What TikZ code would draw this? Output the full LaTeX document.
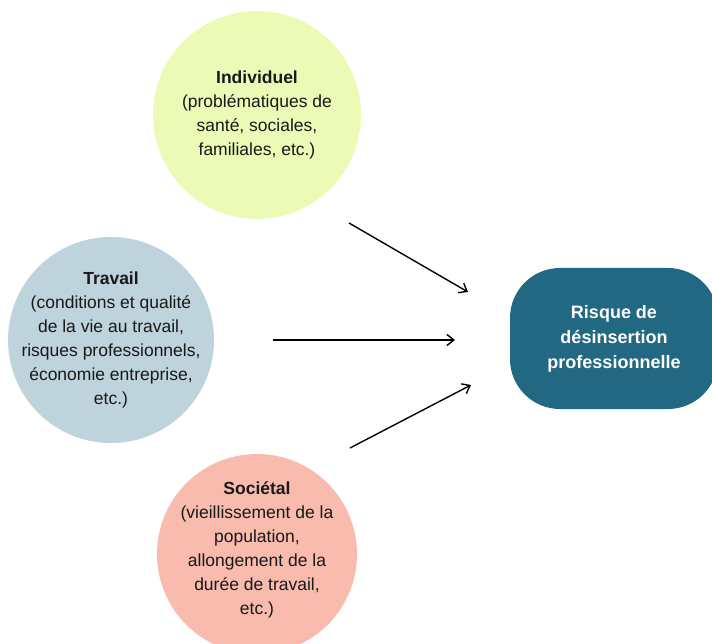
\documentclass[tikz,border=0pt]{standalone}
\usepackage{fontspec}
\setmainfont{Liberation Sans}
\usetikzlibrary{arrows.meta}
\definecolor{cIndiv}{HTML}{EBFAB5}
\definecolor{cTrav}{HTML}{BED3DC}
\definecolor{cSoc}{HTML}{F8BBAD}
\definecolor{cRisk}{HTML}{236882}
\tikzset{
  bubble/.style={circle, draw=none, inner sep=0pt},
  bubbletext/.style={align=center, inner sep=0pt,
    font=\fontsize{17.5}{24}\selectfont, text=black!90},
  riskbox/.style={rectangle, rounded corners=50pt, fill=cRisk, draw=none,
    minimum width=208pt, minimum height=141pt, align=center, text=white,
    font=\bfseries\fontsize{18}{25}\selectfont},
  arr/.style={-{Straight Barb[length=7pt,width=11pt,line width=1.4pt]}, line width=1.4pt, black}
}
\begin{document}
\begin{tikzpicture}[x=1pt,y=-1pt]
\useasboundingbox (0,0) rectangle (712,644);
\begin{scope}
\clip (0,0) rectangle (712,644);
\node[bubble, fill=cIndiv, minimum size=208pt] (indiv) at (257,115) {};
\node[bubbletext] (indivtxt) at (indiv.center)
  {\textbf{Individuel}\\(problématiques de\\santé, sociales,\\familiales, etc.)};
\node[bubble, fill=cTrav, minimum size=206pt] (trav) at (111,340) {};
\node[bubbletext] (travtxt) at (trav.center)
  {\textbf{Travail}\\(conditions et qualité\\de la vie au travail,\\risques professionnels,\\économie entreprise,\\etc.)};
\node[bubble, fill=cSoc, minimum size=200pt] (soc) at (257,554) {};
\node[bubbletext] (soctxt) at (257,550)
  {\textbf{Sociétal}\\(vieillissement de la\\population,\\allongement de la\\durée de travail,\\etc.)};
\node[riskbox] (risk) at (614,338.5)
  {Risque de\\désinsertion\\professionnelle};
\end{scope}
\coordinate (a1s) at (349,223);
\coordinate (a1e) at (468,292);
\coordinate (a2s) at (273,340);
\coordinate (a2e) at (455,340);
\coordinate (a3s) at (350,448);
\coordinate (a3e) at (471,385);
\draw[arr] (a1s) -- (a1e);
\draw[arr] (a2s) -- (a2e);
\draw[arr] (a3s) -- (a3e);
\end{tikzpicture}
\end{document}
